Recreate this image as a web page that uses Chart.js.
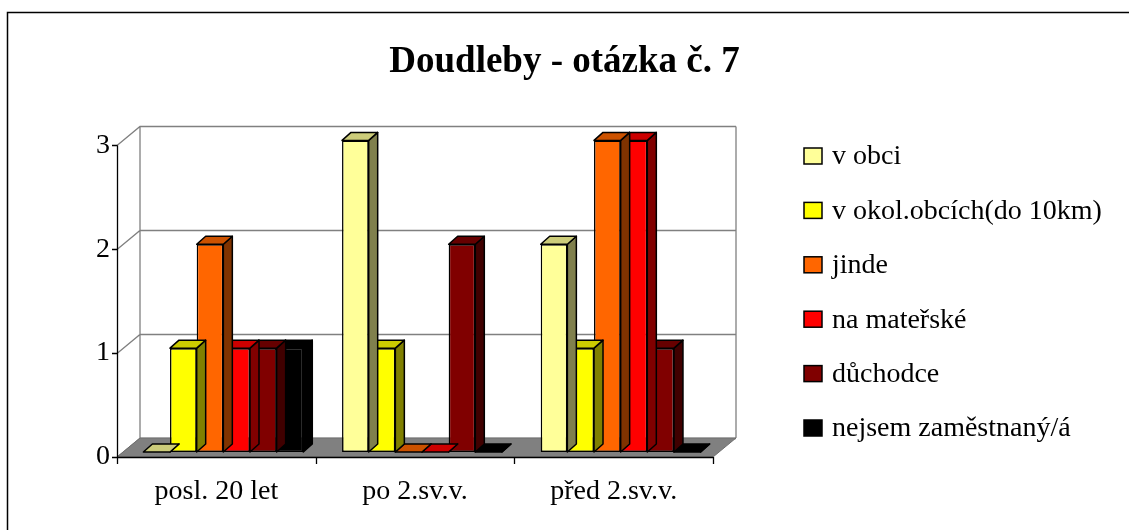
<!DOCTYPE html>
<html>
<head>
<meta charset="utf-8">
<script src="https://cdn.jsdelivr.net/npm/chart.js@4/dist/chart.umd.min.js"></script>
<style>
  html, body { margin: 0; padding: 0; background: #fff; }
  canvas { display: block; }
</style>
</head>
<body>
<canvas id="chart" width="1129" height="530"></canvas>
<script>
const categories = ['posl. 20 let', 'po 2.sv.v.', 'před 2.sv.v.'];
const seriesNames = ['v obci', 'v okol.obcích(do 10km)', 'jinde', 'na mateřské', 'důchodce', 'nejsem zaměstnaný/á'];
const vObci = [0, 3, 2];
const vOkoli = [1, 1, 1];
const jinde = [2, 0, 3];
const naMaterske = [1, 0, 3];
const duchodce = [1, 2, 1];
const nezamestnany = [1, 0, 0];
const yTicks = [0, 1, 2, 3];

// front / top / side colours of the 3d bars
const frontColors = ['#FFFF99', '#FFFF00', '#FF6600', '#FF0000', '#800000', '#000000'];
const topColors = ['#CCCC7A', '#CCCC00', '#CC5200', '#CC0000', '#660000', '#000000'];
const sideColors = ['#80804D', '#808000', '#803300', '#800000', '#400000', '#000000'];

const FONT = 'Liberation Serif, Times New Roman, serif';
const WALL_DX = 23, WALL_DY = -19;  // depth of the floor / back wall
const BAR_DX = 7, BAR_DY = -5;      // bar front plane inside the depth
const BAR_DEPTH_X = 9, BAR_DEPTH_Y = -8;

const allSeries = [vObci, vOkoli, jinde, naMaterske, duchodce, nezamestnany];

function poly(ctx, pts, fill, stroke, lw) {
  ctx.beginPath();
  ctx.moveTo(pts[0][0], pts[0][1]);
  for (let i = 1; i < pts.length; i++) ctx.lineTo(pts[i][0], pts[i][1]);
  ctx.closePath();
  if (fill) { ctx.fillStyle = fill; ctx.fill(); }
  if (stroke) { ctx.strokeStyle = stroke; ctx.lineWidth = lw || 1; ctx.stroke(); }
}

const threeD = {
  id: 'threeD',
  beforeDraw(chart) {
    const ctx = chart.ctx;
    const a = chart.chartArea;
    const y = chart.scales.y;
    ctx.save();
    // outer frame
    ctx.strokeStyle = '#000';
    ctx.lineWidth = 1.5;
    ctx.strokeRect(7.5, 12.5, 1300, 700);

    // back wall
    const bl = a.left + WALL_DX, br = a.right + WALL_DX;
    const bt = a.top + WALL_DY, bb = a.bottom + WALL_DY;
    ctx.fillStyle = '#fff';
    ctx.fillRect(bl, bt, br - bl, bb - bt);
    ctx.strokeStyle = '#808080';
    ctx.lineWidth = 1.3;
    ctx.beginPath();
    yTicks.forEach(v => {
      const py = Math.round(y.getPixelForValue(v)) + 0.5;
      ctx.moveTo(a.left, py);
      ctx.lineTo(bl, py + WALL_DY);
      ctx.lineTo(br, py + WALL_DY);
    });
    ctx.moveTo(bl, bt); ctx.lineTo(bl, bb);
    ctx.moveTo(br, bt); ctx.lineTo(br, bb);
    ctx.stroke();

    // floor
    poly(ctx, [[a.left, a.bottom], [a.right, a.bottom], [br, bb], [bl, bb]], '#808080', '#6e6e6e', 1);

    // axes
    ctx.strokeStyle = '#000';
    ctx.lineWidth = 1.3;
    ctx.beginPath();
    ctx.moveTo(a.left + 0.5, a.top);
    ctx.lineTo(a.left + 0.5, a.bottom + 0.5);
    ctx.lineTo(a.right, a.bottom + 0.5);
    yTicks.forEach(v => {
      const py = Math.round(y.getPixelForValue(v)) + 0.5;
      ctx.moveTo(a.left - 5, py);
      ctx.lineTo(a.left + 0.5, py);
    });
    const step = (a.right - a.left) / categories.length;
    for (let i = 0; i <= categories.length; i++) {
      const px = Math.round(a.left + step * i) + 0.5;
      ctx.moveTo(px, a.bottom);
      ctx.lineTo(px, a.bottom + 7);
    }
    ctx.stroke();
    ctx.restore();
  },
  beforeDatasetDraw(chart, args) {
    const ctx = chart.ctx;
    const i = args.index;
    ctx.save();
    ctx.translate(BAR_DX, BAR_DY);
    ctx.lineJoin = 'round';
    args.meta.data.forEach(el => {
      const p = el.getProps(['x', 'y', 'base', 'width'], true);
      const l = p.x - p.width / 2, r = p.x + p.width / 2;
      const t = Math.min(p.y, p.base), b = Math.max(p.y, p.base);
      poly(ctx, [[r, t], [r + BAR_DEPTH_X, t + BAR_DEPTH_Y], [r + BAR_DEPTH_X, b + BAR_DEPTH_Y], [r, b]], sideColors[i], '#000', 1.5);
      poly(ctx, [[l, t], [r, t], [r + BAR_DEPTH_X, t + BAR_DEPTH_Y], [l + BAR_DEPTH_X, t + BAR_DEPTH_Y]], topColors[i], '#000', 1.5);
    });
  },
  afterDatasetDraw(chart) {
    chart.ctx.restore();
  },
  afterDraw(chart) {
    const ctx = chart.ctx;
    ctx.save();
    ctx.font = '28px ' + FONT;
    ctx.textBaseline = 'middle';
    ctx.textAlign = 'left';
    chart.data.datasets.forEach((ds, i) => {
      const cy = 156 + i * 54.4;
      ctx.fillStyle = ds.backgroundColor;
      ctx.fillRect(804, cy - 8, 18, 16);
      ctx.strokeStyle = '#000';
      ctx.lineWidth = 1.5;
      ctx.strokeRect(804, cy - 8, 18, 16);
      ctx.fillStyle = '#000';
      ctx.fillText(ds.label, 832, cy + 1);
    });
    ctx.restore();
  }
};

new Chart(document.getElementById('chart'), {
  type: 'bar',
  data: {
    labels: categories,
    datasets: allSeries.map((vals, i) => ({
      label: seriesNames[i],
      data: vals,
      backgroundColor: frontColors[i],
      borderColor: '#000',
      borderWidth: 1.5,
      borderSkipped: false,
      clip: false
    }))
  },
  options: {
    responsive: false,
    animation: false,
    devicePixelRatio: 1,
    categoryPercentage: 0.805,
    barPercentage: 1,
    layout: { padding: 0 },
    plugins: {
      legend: { display: false },
      tooltip: { enabled: false },
      title: {
        display: true,
        text: 'Doudleby - otázka č. 7',
        color: '#000',
        font: { family: FONT, size: 37, weight: 'bold' },
        padding: { top: 40, bottom: 61 }
      }
    },
    scales: {
      x: {
        grid: { display: false, drawTicks: false },
        border: { display: false },
        ticks: { color: '#000', font: { family: FONT, size: 28 }, padding: 18, maxRotation: 0 },
        afterFit: s => { s.height = 73; }
      },
      y: {
        min: 0,
        max: 3,
        grid: { display: false, drawTicks: false },
        border: { display: false },
        ticks: { color: '#000', font: { family: FONT, size: 28 }, padding: 7, stepSize: 1 },
        afterFit: s => { s.width = 117; }
      },
      // empty right-hand axis keeps room for the legend
      legendSpace: {
        type: 'linear',
        position: 'right',
        grid: { display: false, drawTicks: false },
        border: { display: false },
        ticks: { display: false },
        afterFit: s => { s.width = 416; }
      }
    }
  },
  plugins: [threeD]
});
</script>
</body>
</html>
